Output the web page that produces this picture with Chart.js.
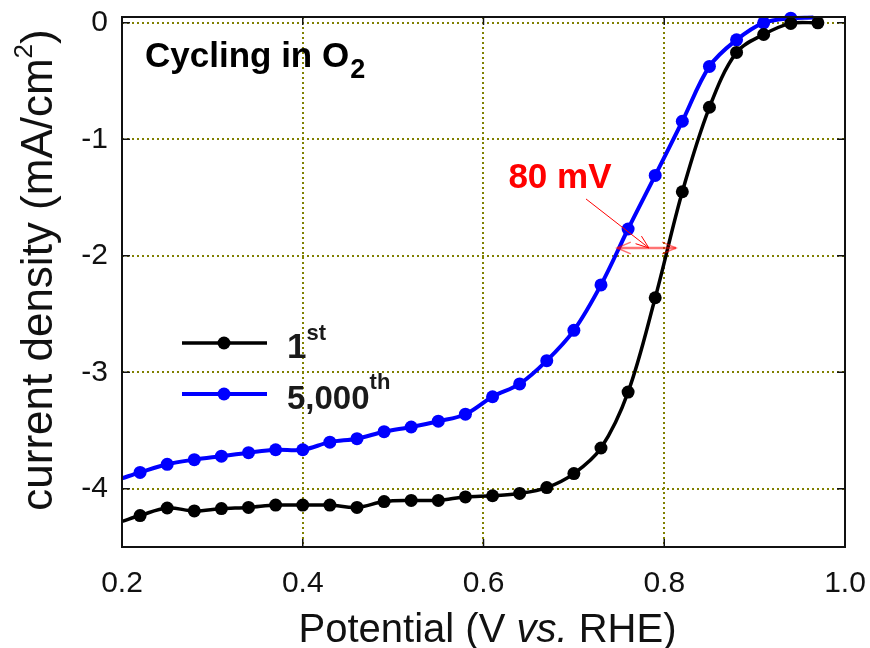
<!DOCTYPE html>
<html>
<head>
<meta charset="utf-8">
<title>Cycling in O2</title>
<script src="https://cdn.jsdelivr.net/npm/chart.js@4.4.1/dist/chart.umd.min.js"></script>
<style>
  html, body { margin: 0; padding: 0; background: #fff; }
</style>
</head>
<body>
<canvas id="lsv" width="870" height="648"></canvas>
<script>
// potential (V vs. RHE) of every marker
const potential = [0.22, 0.25, 0.28, 0.31, 0.34, 0.37, 0.40, 0.43, 0.46, 0.49, 0.52, 0.55, 0.58,
                   0.61, 0.64, 0.67, 0.70, 0.73, 0.76, 0.79, 0.82, 0.85, 0.88, 0.91, 0.94, 0.97];
// current density (mA/cm2), 1st cycle
const cycle1 = [-4.23, -4.165, -4.19, -4.17, -4.16, -4.14, -4.14, -4.14, -4.16, -4.11, -4.10, -4.10, -4.07,
                -4.06, -4.04, -3.99, -3.87, -3.65, -3.17, -2.36, -1.45, -0.725, -0.254, -0.10, -0.005, 0.0];
// after 5,000 cycles (last marker at 0.94 V)
const cycle5000 = [-3.86, -3.79, -3.75, -3.72, -3.69, -3.665, -3.665, -3.60, -3.57, -3.51, -3.47, -3.42, -3.36,
                   -3.21, -3.10, -2.90, -2.64, -2.25, -1.77, -1.31, -0.845, -0.374, -0.146, 0.0, 0.04];
// the traces run on a little past the markers
const cycle1Start = [0.2, -4.28];
const cycle5000Start = [0.2, -3.91];
const cycle5000End = [0.965, 0.045];

const xTicks = [0.2, 0.4, 0.6, 0.8, 1.0];
const yTicks = [0, -1, -2, -3, -4];

const FONT = '"Liberation Sans", Arial, Helvetica, sans-serif';

function trace(start, ys, end) {
  const pts = [];
  if (start) pts.push({x: start[0], y: start[1], bare: true});
  ys.forEach((v, i) => pts.push({x: potential[i], y: v}));
  if (end) pts.push({x: end[0], y: end[1], bare: true});
  return pts;
}

const markerSize = c => (c.raw && c.raw.bare) ? 0 : 6.5;

// text made of pieces: [text, font, baseline rise, gap before]
function richText(ctx, parts, x, y, align) {
  let w = 0;
  parts.forEach(p => { ctx.font = p[1]; w += ctx.measureText(p[0]).width + (p[3] || 0); });
  let cx = align === 'center' ? x - w / 2 : x;
  ctx.textAlign = 'left';
  ctx.textBaseline = 'alphabetic';
  parts.forEach(p => {
    ctx.font = p[1];
    cx += p[3] || 0;
    ctx.fillText(p[0], cx, y - (p[2] || 0));
    cx += ctx.measureText(p[0]).width;
  });
}

function arrowHead(ctx, tx, ty, fx, fy, len, spread) {
  const ang = Math.atan2(ty - fy, tx - fx);
  ctx.beginPath();
  ctx.moveTo(tx - len * Math.cos(ang - spread), ty - len * Math.sin(ang - spread));
  ctx.lineTo(tx, ty);
  ctx.lineTo(tx - len * Math.cos(ang + spread), ty - len * Math.sin(ang + spread));
  ctx.stroke();
}

// frame, inward ticks, legend, notes and axis titles
const decorations = {
  id: 'decorations',
  afterDraw(chart) {
    const {ctx, chartArea: a, scales: {x, y}} = chart;
    ctx.save();

    ctx.strokeStyle = '#111';
    ctx.lineWidth = 2;
    ctx.strokeRect(a.left, a.top, a.right - a.left, a.bottom - a.top);

    ctx.lineWidth = 1.5;
    ctx.beginPath();
    xTicks.forEach(v => {
      const px = x.getPixelForValue(v);
      ctx.moveTo(px, a.bottom); ctx.lineTo(px, a.bottom - 8);
      ctx.moveTo(px, a.top); ctx.lineTo(px, a.top + 8);
    });
    yTicks.forEach(v => {
      const py = y.getPixelForValue(v);
      ctx.moveTo(a.left, py); ctx.lineTo(a.left + 8, py);
      ctx.moveTo(a.right, py); ctx.lineTo(a.right - 8, py);
    });
    ctx.stroke();

    // 80 mV shift at half-wave
    const hy = y.getPixelForValue(-1.933);
    const hx1 = x.getPixelForValue(0.7477), hx2 = x.getPixelForValue(0.813);
    ctx.strokeStyle = 'rgba(255, 0, 0, 0.55)';
    ctx.lineWidth = 2.5;
    ctx.beginPath(); ctx.moveTo(hx1, hy); ctx.lineTo(hx2, hy); ctx.stroke();
    ctx.lineWidth = 1.5;
    arrowHead(ctx, hx1, hy, hx2, hy, 15, 0.4);
    arrowHead(ctx, hx2, hy, hx1, hy, 15, 0.4);

    const dx1 = x.getPixelForValue(0.7134), dy1 = y.getPixelForValue(-1.512);
    const dx2 = x.getPixelForValue(0.783);
    ctx.strokeStyle = '#ff0000';
    ctx.lineWidth = 1;
    ctx.beginPath(); ctx.moveTo(dx1, dy1); ctx.lineTo(dx2, hy); ctx.stroke();
    arrowHead(ctx, dx2, hy, dx1, dy1, 14, 0.35);

    ctx.fillStyle = '#ff0000';
    richText(ctx, [['80 mV', 'bold 35px ' + FONT]],
      x.getPixelForValue(0.6846), y.getPixelForValue(-1.418), 'center');

    ctx.fillStyle = '#000';
    richText(ctx, [['Cycling in O', 'bold 35px ' + FONT], ['2', 'bold 27px ' + FONT, -11, 1]], 145, 67);

    // legend
    const rows = [
      {color: '#000', width: 3.5, y: 343, parts: [['1', 'bold 35px ' + FONT], ['st', 'bold 22px ' + FONT, 18]]},
      {color: '#0000ff', width: 4, y: 394, parts: [['5,000', 'bold 33px ' + FONT], ['th', 'bold 22px ' + FONT, 20]]}
    ];
    rows.forEach(r => {
      ctx.strokeStyle = r.color;
      ctx.lineWidth = r.width;
      ctx.beginPath(); ctx.moveTo(182, r.y); ctx.lineTo(267, r.y); ctx.stroke();
      ctx.fillStyle = r.color;
      ctx.beginPath(); ctx.arc(224, r.y, 6.5, 0, Math.PI * 2); ctx.fill();
      ctx.fillStyle = '#1a1a1a';
      richText(ctx, r.parts, 287, r.y + 15);
    });

    // axis titles
    ctx.fillStyle = '#111';
    richText(ctx, [
      ['Potential (V ', '40px ' + FONT],
      ['vs.', 'italic 40px ' + FONT],
      [' RHE)', '40px ' + FONT]
    ], (a.left + a.right) / 2 + 4, 642, 'center');

    ctx.save();
    ctx.translate(52, 270);
    ctx.rotate(-Math.PI / 2);
    richText(ctx, [
      ['current density (mA/cm', '44px ' + FONT],
      ['2', '26px ' + FONT, 20],
      [')', '44px ' + FONT]
    ], 0, 0, 'center');
    ctx.restore();

    ctx.restore();
  }
};

new Chart(document.getElementById('lsv'), {
  type: 'line',
  data: {
    datasets: [
      {
        label: '1st',
        data: trace(cycle1Start, cycle1),
        borderColor: '#000',
        backgroundColor: '#000',
        borderWidth: 3.5,
        tension: 0.35,
        pointRadius: markerSize,
        pointHoverRadius: markerSize,
        pointBorderWidth: 0,
        clip: 10
      },
      {
        label: '5,000th',
        data: trace(cycle5000Start, cycle5000, cycle5000End),
        borderColor: '#0000ff',
        backgroundColor: '#0000ff',
        borderWidth: 4,
        tension: 0.35,
        pointRadius: markerSize,
        pointHoverRadius: markerSize,
        pointBorderWidth: 0,
        clip: 10
      }
    ]
  },
  options: {
    responsive: false,
    animation: false,
    events: [],
    layout: { padding: { top: 17, right: 25, left: 0, bottom: 0 } },
    plugins: { legend: { display: false }, tooltip: { enabled: false } },
    scales: {
      x: {
        type: 'linear',
        min: 0.2,
        max: 1.0,
        afterBuildTicks: s => { s.ticks = xTicks.map(v => ({value: v})); },
        afterFit: s => { s.height = 101; s.paddingLeft = 0; s.paddingRight = 0; },
        ticks: {
          callback: v => v.toFixed(1),
          font: { family: FONT, size: 30 },
          color: '#111',
          padding: 19,
          maxRotation: 0
        },
        grid: { color: '#808000', lineWidth: 2, drawTicks: false },
        border: { display: false, dash: [2, 3] }
      },
      y: {
        type: 'linear',
        min: -4.5,
        max: 0.05,
        afterBuildTicks: s => { s.ticks = yTicks.map(v => ({value: v})); },
        afterFit: s => { s.width = 122; s.paddingTop = 0; s.paddingBottom = 0; },
        ticks: {
          font: { family: FONT, size: 30 },
          color: '#111',
          padding: 14
        },
        grid: { color: '#808000', lineWidth: 2, drawTicks: false },
        border: { display: false, dash: [2, 3] }
      }
    }
  },
  plugins: [decorations]
});
</script>
</body>
</html>
